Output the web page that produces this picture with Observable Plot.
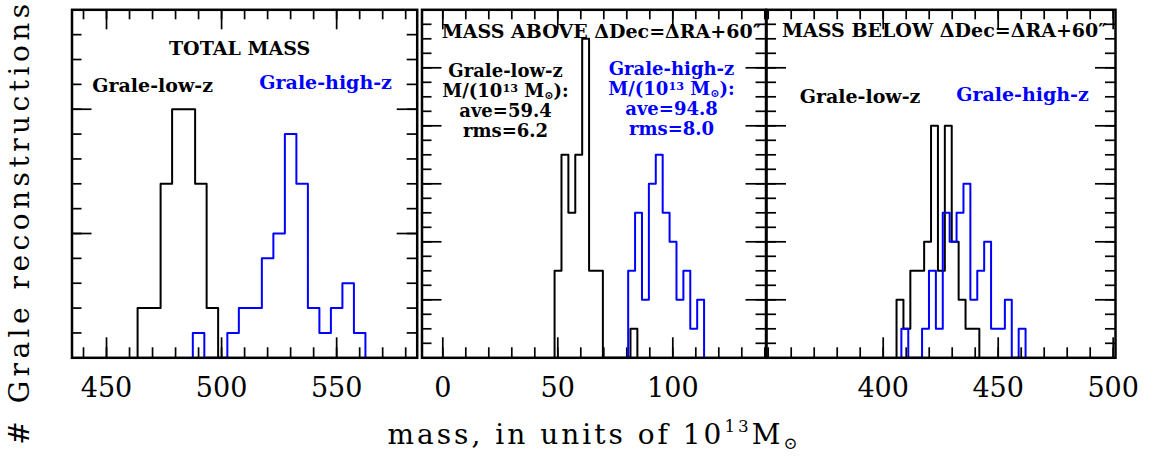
<!DOCTYPE html>
<html><head><meta charset="utf-8">
<script src="https://cdn.jsdelivr.net/npm/d3@7"></script>
<script src="https://cdn.jsdelivr.net/npm/@observablehq/plot@0.6"></script>
<style>
body{margin:0;background:#fff;}
#chart{position:relative;width:1153px;height:460px;overflow:hidden;font-family:"DejaVu Serif",serif;background:#fff;}
.panel{position:absolute;top:0;}
#ytitle{position:absolute;left:20px;top:222px;transform:translate(-50%,-50%) rotate(-90deg);white-space:nowrap;font-size:28px;letter-spacing:4.5px;line-height:28px;}
#xtitle{position:absolute;left:594px;top:421px;transform:translateX(-50%);white-space:nowrap;font-size:28px;letter-spacing:3px;line-height:28px;}
#xtitle sup{font-size:60%;vertical-align:0.7em;line-height:0;}
#xtitle sub{font-size:60%;vertical-align:-0.3em;line-height:0;}
</style></head><body><div id="chart"></div>
<script>
// ---------- data ----------
// Panel 1: TOTAL MASS (bin edges, counts)
const totalLowEdges  = [463.5, 468.5, 473.5, 478.5, 483.5, 488.5, 493.5, 498.5];
const totalLowCounts = [2, 2, 7, 10, 10, 7, 2];
const totalHighEdges  = [487.5, 492.5, 497.5, 502.5, 507.5, 512.5, 517.5, 522.5, 527.5, 532.5, 537.5, 542.5, 547.5, 552.5, 557.5, 562.5];
const totalHighCounts = [1, 0, 0, 1, 2, 2, 4, 5, 9, 7, 2, 1, 2, 3, 1];
// Panel 2: MASS ABOVE
const aboveLowEdges  = [48.6, 51.6, 54.6, 57.6, 60.6, 63.6, 66.6, 69.6, 72.6, 75.6, 78.6, 81.6, 84.6];
const aboveLowCounts = [3, 7, 5, 7, 11, 3, 3, 0, 0, 0, 0, 1];
const aboveHighEdges  = [80.6, 83.6, 86.6, 89.6, 92.6, 95.6, 98.6, 101.6, 104.6, 107.6, 110.6, 113.6];
const aboveHighCounts = [3, 5, 2, 6, 7, 5, 4, 2, 3, 1, 2];
// Panel 3: MASS BELOW
const belowLowEdges  = [405.8, 408.8, 411.8, 414.8, 417.8, 420.8, 423.8, 426.8, 429.8, 432.8, 435.8, 438.8, 441.8];
const belowLowCounts = [2, 1, 3, 3, 4, 8, 3, 8, 4, 2, 1, 1];
const belowHighEdges  = [407.9, 410.9, 413.9, 416.9, 419.9, 422.9, 425.9, 428.9, 431.9, 434.9, 437.9, 440.9, 443.9, 446.9, 449.9, 452.9, 455.9, 458.9, 461.9];
const belowHighCounts = [1, 0, 0, 1, 3, 1, 5, 4, 5, 6, 2, 3, 4, 1, 1, 2, 0, 1];

// tick values
const p1XLabels = [450, 500, 550];
const p1XMinor  = [440, 450, 460, 470, 480, 490, 500, 510, 520, 530, 540, 550, 560, 570, 580];
const p1YMajor  = [5, 10];
const p1YMinor  = [1, 2, 3, 4, 5, 6, 7, 8, 9, 10, 11, 12, 13];
const p2XLabels = [0, 50, 100];
const p2XMinor  = [0, 10, 20, 30, 40, 50, 60, 70, 80, 90, 100, 110, 120, 130, 140];
const p3XLabels = [400, 450, 500];
const p3XMinor  = [350, 360, 370, 380, 390, 400, 410, 420, 430, 440, 450, 460, 470, 480, 490, 500];
const p23YMajor = [2, 4, 6, 8, 10];
const p23YMinor = [0.5, 1, 1.5, 2, 2.5, 3, 3.5, 4, 4.5, 5, 5.5, 6, 6.5, 7, 7.5, 8, 8.5, 9, 9.5, 10, 10.5, 11, 11.5];

// texts
const p1Title = "TOTAL MASS";
const p2Title = "MASS ABOVE ΔDec=ΔRA+60″";
const p3Title = "MASS BELOW ΔDec=ΔRA+60″";
const lowName = "Grale-low-z";
const highName = "Grale-high-z";
const p2LowStats  = ["Grale-low-z", "M/(10¹³ M⊙):", "ave=59.4", "rms=6.2"];
const p2HighStats = ["Grale-high-z", "M/(10¹³ M⊙):", "ave=94.8", "rms=8.0"];

// ---------- drawing ----------
const BLUE = "#0000ff";
const SVG_H = 410, M_TOP = 9.3, FRAME_BOTTOM = 357.3;
const FH = FRAME_BOTTOM - M_TOP;

function steps(edges, counts) {
  const pts = [{x: edges[0], y: 0}];
  counts.forEach((c, i) => pts.push({x: edges[i], y: c}));
  pts.push({x: edges[edges.length - 1], y: 0});
  return pts;
}

function makePanel(cfg) {
  const FW = cfg.width - cfg.ml - cfg.mr;
  const tk = {stroke: "black", strokeWidth: 1.7};
  const marks = [
    Plot.tickX(cfg.xMinor, {x: d => d, insetTop: FH - 10, ...tk}),
    Plot.tickX(cfg.xLabels, {x: d => d, insetTop: FH - 20, ...tk}),
    Plot.tickX(cfg.xMinor, {x: d => d, insetBottom: FH - 10, ...tk}),
    Plot.tickX(cfg.xLabels, {x: d => d, insetBottom: FH - 20, ...tk}),
    Plot.tickY(cfg.yMinor, {y: d => d, insetRight: FW - 10, ...tk}),
    Plot.tickY(cfg.yMajor, {y: d => d, insetRight: FW - 20, ...tk}),
    Plot.tickY(cfg.yMinor, {y: d => d, insetLeft: FW - 10, ...tk}),
    Plot.tickY(cfg.yMajor, {y: d => d, insetLeft: FW - 20, ...tk}),
    Plot.line(steps(cfg.low[0], cfg.low[1]), {x: "x", y: "y", curve: "step-after", stroke: "black", strokeWidth: 2}),
    Plot.line(steps(cfg.high[0], cfg.high[1]), {x: "x", y: "y", curve: "step-after", stroke: BLUE, strokeWidth: 2}),
    Plot.frame({stroke: "black", strokeWidth: 2.5}),
    Plot.text(cfg.xLabels, {x: d => d, text: d => String(d), frameAnchor: "bottom", lineAnchor: "top", dy: 20.5,
      fontSize: 27, fontFamily: "DejaVu Serif", fill: "black"}),
    ...cfg.texts.map(t => Plot.text([t.text], {text: d => d, frameAnchor: "top", lineAnchor: "top",
      dx: t.dx, dy: t.dy, fill: t.color, fontSize: t.size || 19, fontWeight: "bold", fontFamily: "DejaVu Serif",
      lineHeight: 20 / (t.size || 19)}))
  ];
  const svg = Plot.plot({
    width: cfg.width, height: SVG_H,
    marginTop: M_TOP, marginBottom: SVG_H - FRAME_BOTTOM, marginLeft: cfg.ml, marginRight: cfg.mr,
    x: {domain: cfg.xDomain, axis: null},
    y: {domain: [0, cfg.yMax], axis: null},
    style: {background: "none", overflow: "visible", fontFamily: "DejaVu Serif"},
    marks
  });
  svg.classList.add("panel");
  svg.style.left = cfg.left + "px";
  fixScripts(svg);
  return svg;
}

function fixScripts(svg) {
  const nodes = Array.from(svg.querySelectorAll("text, tspan")).filter(el =>
    el.childNodes.length === 1 && el.firstChild.nodeType === 3 && /[¹³⊙]/.test(el.textContent));
  nodes.forEach(el => {
    const s = el.textContent;
    el.textContent = "";
    const parts = s.split(/(¹³|⊙)/);
    parts.forEach(p => {
      if (!p) return;
      const ts = document.createElementNS("http://www.w3.org/2000/svg", "tspan");
      if (p === "¹³") { ts.textContent = "13"; ts.setAttribute("font-size", "62%"); ts.setAttribute("baseline-shift", "0.45em"); }
      else if (p === "⊙") { ts.textContent = "⊙"; ts.setAttribute("font-size", "62%"); ts.setAttribute("baseline-shift", "-0.15em"); }
      else ts.textContent = p;
      el.appendChild(ts);
    });
  });
}

const chart = document.getElementById("chart");

chart.appendChild(makePanel({
  left: 0, width: 419, ml: 71.5, mr: 2.3, xDomain: [435, 585], yMax: 14,
  xMinor: p1XMinor, xLabels: p1XLabels, yMajor: p1YMajor, yMinor: p1YMinor,
  low: [totalLowEdges, totalLowCounts], high: [totalHighEdges, totalHighCounts],
  texts: [
    {text: p1Title, dx: -5, dy: 31.2, color: "black"},
    {text: lowName, dx: -92, dy: 67.9, color: "black"},
    {text: highName, dx: 81, dy: 65.2, color: BLUE}
  ]
}));

chart.appendChild(makePanel({
  left: 419, width: 348, ml: 2.5, mr: 1.5, xDomain: [-9.04, 140.52], yMax: 12,
  xMinor: p2XMinor, xLabels: p2XLabels, yMajor: p23YMajor, yMinor: p23YMinor,
  low: [aboveLowEdges, aboveLowCounts], high: [aboveHighEdges, aboveHighCounts],
  texts: [
    {text: p2Title, dx: 7.4, dy: 14.2, color: "black"},
    {text: p2LowStats.join("\n"), dx: -88.5, dy: 53, color: "black", size: 18},
    {text: p2HighStats.join("\n"), dx: 77.5, dy: 51, color: BLUE, size: 18}
  ]
}));

chart.appendChild(makePanel({
  left: 765, width: 388, ml: 1, mr: 38, xDomain: [349.26, 501], yMax: 12,
  xMinor: p3XMinor, xLabels: p3XLabels, yMajor: p23YMajor, yMinor: p23YMinor,
  low: [belowLowEdges, belowLowCounts], high: [belowHighEdges, belowHighCounts],
  texts: [
    {text: p3Title, dx: 3.4, dy: 13.2, color: "black"},
    {text: lowName, dx: -81, dy: 78.9, color: "black"},
    {text: highName, dx: 81.5, dy: 77.2, color: BLUE}
  ]
}));

const yt = document.createElement("div");
yt.id = "ytitle";
yt.textContent = "# Grale reconstructions";
chart.appendChild(yt);

const xt = document.createElement("div");
xt.id = "xtitle";
xt.innerHTML = "mass, in units of 10<sup>13</sup>M<sub>⊙</sub>";
chart.appendChild(xt);
</script>
</body></html>
